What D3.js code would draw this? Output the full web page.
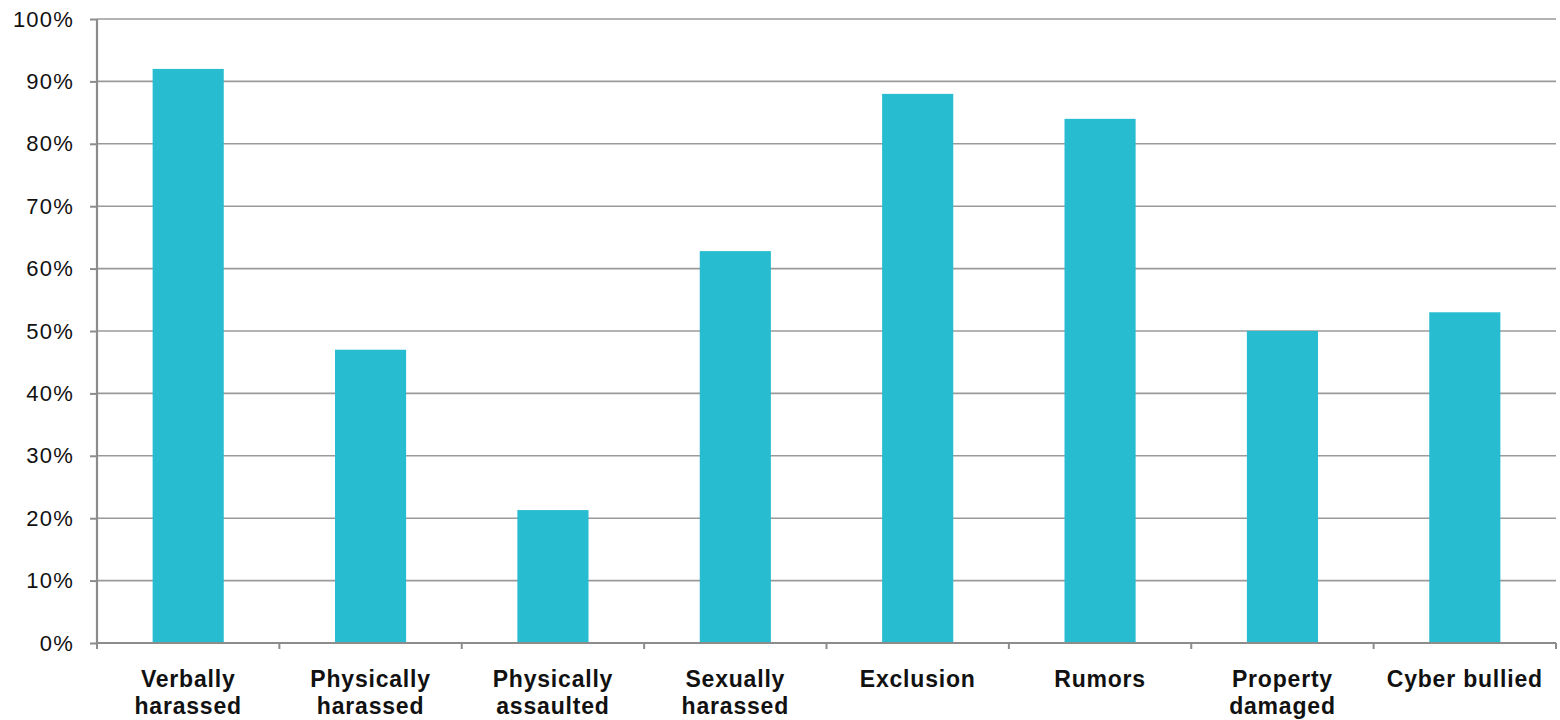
<!DOCTYPE html>
<html>
<head>
<meta charset="utf-8">
<script src="https://cdn.jsdelivr.net/npm/d3@7"></script>
<style>
  body { margin: 0; background: #fff; }
  text { font-family: "Liberation Sans", Arial, Helvetica, sans-serif; fill: #111; }
</style>
</head>
<body>
<svg id="chart"></svg>
<script>
// data
const categories = [
  ["Verbally", "harassed"],
  ["Physically", "harassed"],
  ["Physically", "assaulted"],
  ["Sexually", "harassed"],
  ["Exclusion"],
  ["Rumors"],
  ["Property", "damaged"],
  ["Cyber bullied"]
];
const values = [92, 47, 21.3, 62.8, 88, 84, 50, 53];
const yTicks = [0, 10, 20, 30, 40, 50, 60, 70, 80, 90, 100];

const width = 1560, height = 720;
const margin = { top: 19, right: 4, bottom: 77, left: 97 };
const innerW = width - margin.left - margin.right;
const innerH = height - margin.top - margin.bottom;

const svg = d3.select('#chart').attr('width', width).attr('height', height);
const chart = svg.append('g')
  .attr('transform', `translate(${margin.left},${margin.top})`);

const keys = categories.map(d => d.join(' '));

const xScale = d3.scaleBand()
  .domain(keys)
  .range([0, innerW])
  .paddingInner(0.61)
  .paddingOuter(0.305);

const yScale = d3.scaleLinear()
  .domain([0, 100])
  .range([innerH, 0]);

// gridlines
chart.selectAll('.grid')
  .data(yTicks.filter(d => d > 0))
  .join('line')
  .attr('class', 'grid')
  .attr('x1', 0).attr('x2', innerW)
  .attr('y1', d => yScale(d)).attr('y2', d => yScale(d))
  .attr('stroke', '#9a9a9a')
  .attr('stroke-width', 1.6);

// bars
chart.selectAll('.bar')
  .data(values)
  .join('rect')
  .attr('class', 'bar')
  .attr('x', (d, i) => xScale(keys[i]))
  .attr('width', xScale.bandwidth())
  .attr('y', d => yScale(d))
  .attr('height', d => innerH - yScale(d))
  .attr('fill', '#27bccf');

// y axis
const yAxis = d3.axisLeft(yScale)
  .tickValues(yTicks)
  .tickSize(7)
  .tickPadding(16)
  .tickFormat(d => d + '%');
const yAxisG = chart.append('g').attr('class', 'axis y-axis').call(yAxis);
yAxisG.select('.domain').attr('stroke', '#8c8c8c').attr('stroke-width', 2.2)
  .attr('d', `M0,0V${innerH}`);
yAxisG.selectAll('.tick line').attr('stroke', '#8c8c8c').attr('stroke-width', 2);
yAxisG.selectAll('.tick text')
  .attr('font-size', 22)
  .attr('letter-spacing', 1.2)
  .attr('fill', '#111');

// x axis, ticks on band boundaries
const step = xScale.step();
const boundaries = d3.range(keys.length + 1).map(i => i * step);
chart.append('line')
  .attr('x1', 0).attr('x2', innerW)
  .attr('y1', innerH).attr('y2', innerH)
  .attr('stroke', '#8c8c8c').attr('stroke-width', 2.2);
chart.selectAll('.xtick')
  .data(boundaries)
  .join('line')
  .attr('class', 'xtick')
  .attr('x1', d => d).attr('x2', d => d)
  .attr('y1', innerH).attr('y2', innerH + 6)
  .attr('stroke', '#8c8c8c').attr('stroke-width', 2);

// category labels
const labels = chart.selectAll('.xlabel')
  .data(categories)
  .join('text')
  .attr('class', 'xlabel')
  .attr('text-anchor', 'middle')
  .attr('font-weight', 'bold')
  .attr('font-size', 23)
  .attr('letter-spacing', 0.8)
  .attr('transform', (d, i) => `translate(${xScale(keys[i]) + xScale.bandwidth() / 2},${innerH + 44})`);
labels.selectAll('tspan')
  .data(d => d)
  .join('tspan')
  .attr('x', 0)
  .attr('dy', (d, i) => i === 0 ? 0 : 26.5)
  .text(d => d);
</script>
</body>
</html>
